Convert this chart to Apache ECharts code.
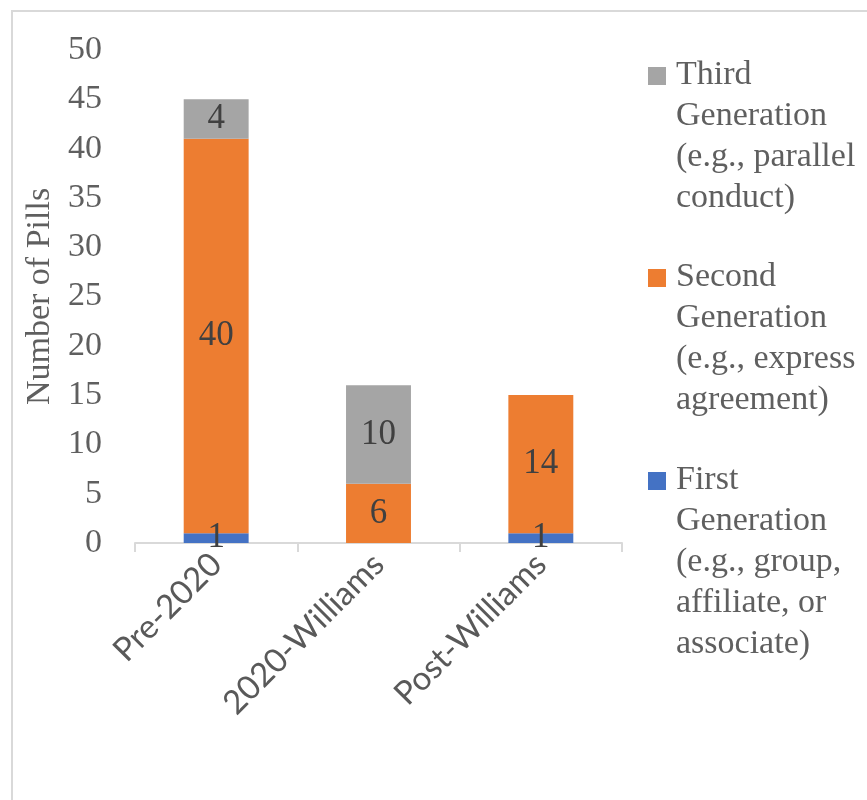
<!DOCTYPE html>
<html>
<head>
<meta charset="utf-8">
<script src="https://cdn.jsdelivr.net/npm/echarts@6/dist/echarts.min.js"></script>
<style>
  html, body { margin: 0; padding: 0; background: #fff; overflow: hidden; }
  #frame { position: absolute; left: 11px; top: 10px; width: 900px; height: 850px; border: 2px solid #d9d9d9; box-sizing: border-box; }
  #chart { position: absolute; left: 0; top: 0; width: 867px; height: 800px; }
</style>
</head>
<body>
<div id="frame"></div>
<div id="chart"></div>
<script>
// chart data
const categories = ['Pre-2020', '2020-Williams', 'Post-Williams']
const firstGen = [1, 0, 1]
const secondGen = [40, 6, 14]
const thirdGen = [4, 10, 0]
const seriesNames = [
    'First Generation (e.g., group, affiliate, or associate)',
    'Second Generation (e.g., express agreement)',
    'Third Generation (e.g., parallel conduct)',
]
// legend text broken the way the reference wraps it
const legendLines = {
    [seriesNames[2]]: ['Third', 'Generation', '(e.g., parallel', 'conduct)'],
    [seriesNames[1]]: ['Second', 'Generation', '(e.g., express', 'agreement)'],
    [seriesNames[0]]: ['First', 'Generation', '(e.g., group,', 'affiliate, or', 'associate)'],
}
const yTicks = { min: 0, max: 50, interval: 5 }

const colors = ['#4472C4', '#ED7D31', '#A5A5A5']
const serif = 'Liberation Serif'
const lineH = 41

const chart = echarts.init(document.getElementById('chart'))

const makeSeries = (name, values, color) => ({
    name,
    type: 'bar',
    stack: 'total',
    barCategoryGap: '60%',
    data: values,
    itemStyle: { color },
    label: {
        show: true,
        position: 'inside',
        fontFamily: serif,
        fontSize: 35,
        color: '#404040',
        formatter: (p) => (p.value ? String(p.value) : ''),
    },
})

// one legend per item so the marker can sit on the first text line
const makeLegend = (name, top) => {
    const h = legendLines[name].length * lineH
    return {
        data: [name],
        orient: 'vertical',
        left: 648,
        top,
        padding: 0,
        itemWidth: 23,
        itemHeight: h,
        icon: `path://M0 12h18v18h-18z M0 0L23 0 M0 ${h}L23 ${h}`,
        selectedMode: false,
        formatter: (n) => legendLines[n].join('\n'),
        textStyle: { fontFamily: serif, fontSize: 34, lineHeight: lineH, color: '#5f5f5f' },
    }
}

chart.setOption({
    animation: false,
    grid: { left: 135, right: 245, top: 50, bottom: 257 },
    legend: [
        makeLegend(seriesNames[2], 55),
        makeLegend(seriesNames[1], 257),
        makeLegend(seriesNames[0], 460),
    ],
    xAxis: {
        type: 'category',
        data: categories,
        axisLine: { lineStyle: { color: '#d9d9d9', width: 2 } },
        axisTick: { show: true, length: 9, lineStyle: { color: '#d9d9d9', width: 2 } },
        axisLabel: { rotate: 45, interval: 0, margin: 16, fontFamily: 'Lato', fontSize: 33, color: '#595959' },
    },
    yAxis: {
        type: 'value',
        min: yTicks.min,
        max: yTicks.max,
        interval: yTicks.interval,
        name: 'Number of Pills',
        nameLocation: 'middle',
        nameGap: 78,
        nameTextStyle: { fontFamily: serif, fontSize: 34, color: '#5f5f5f' },
        splitLine: { show: false },
        axisLine: { show: false },
        axisLabel: { margin: 33, fontFamily: serif, fontSize: 34, color: '#5f5f5f' },
    },
    series: [
        makeSeries(seriesNames[0], firstGen, colors[0]),
        makeSeries(seriesNames[1], secondGen, colors[1]),
        makeSeries(seriesNames[2], thirdGen, colors[2]),
    ],
})
</script>
</body>
</html>
